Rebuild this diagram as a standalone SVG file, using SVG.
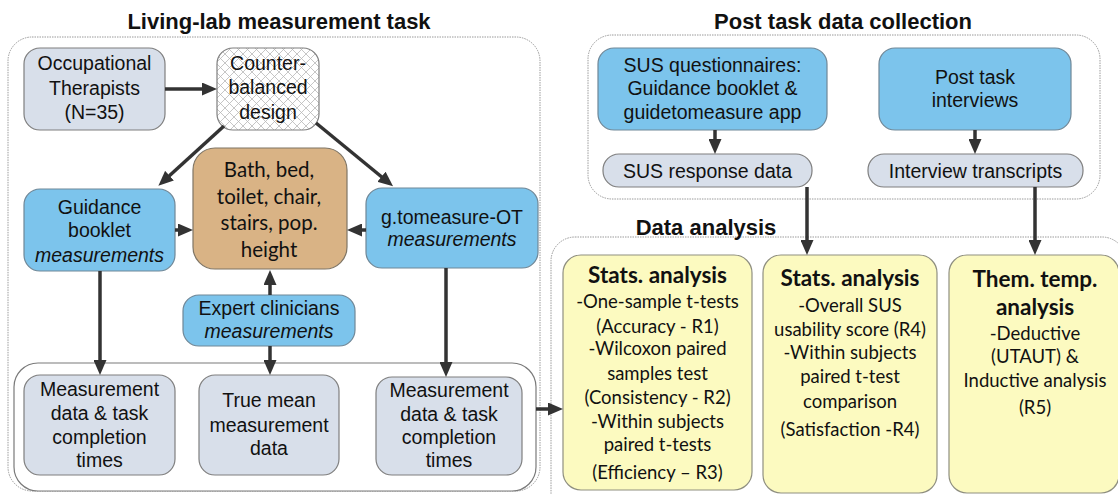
<svg xmlns="http://www.w3.org/2000/svg" width="1118" height="494" viewBox="0 0 1118 494">
<defs>
<pattern id="hatch" width="9" height="9" patternUnits="userSpaceOnUse">
<rect width="9" height="9" fill="#ffffff"/>
<path d="M0,0 L9,9 M9,0 L0,9" stroke="#b8b8b8" stroke-width="0.8"/>
</pattern>
<marker id="ah" markerWidth="15" markerHeight="13" refX="2" refY="6.5" orient="auto" markerUnits="userSpaceOnUse">
<path d="M0,0 L15,6.5 L0,13 Z" fill="#333333"/>
</marker>
<style>
.title{font-family:"Liberation Sans",Arial,sans-serif;font-weight:bold;font-size:22px;fill:#111;text-anchor:middle}
.grp{fill:#ffffff;stroke:#9a9a9a;stroke-width:1;stroke-dasharray:1.5 1}
.inner{fill:#ffffff;stroke:#7a7a7a;stroke-width:1.2}
.gray{fill:#d8dfea;stroke:#7f7f7f;stroke-width:1.2}
.blue{fill:#7cc4ec;stroke:#6f8797;stroke-width:1.2}
.tan{fill:#d9b385;stroke:#7f7565;stroke-width:1.2}
.hatchbox{fill:url(#hatch);stroke:#7f7f7f;stroke-width:1.2}
.yellow{fill:#fcfac0;stroke:#8f8f80;stroke-width:1.2}
.t{font-family:"Liberation Sans",Arial,sans-serif;font-size:19.5px;fill:#111;text-anchor:middle}
.c{font-family:Lato,"Liberation Sans",sans-serif;font-size:20.5px;fill:#111;text-anchor:middle}
.cb{font-family:Lato,"Liberation Sans",sans-serif;font-size:22.5px;font-weight:bold;fill:#111;text-anchor:middle}
.cs{font-family:Lato,"Liberation Sans",sans-serif;font-size:18.5px;fill:#111;text-anchor:middle}
.it{font-style:italic}
.conn{stroke:#333333;stroke-width:3.5;fill:none;marker-end:url(#ah)}
</style>
</defs>

<g id="containers">
<text class="title" x="279" y="29">Living-lab measurement task</text>
<rect class="grp" x="8" y="37" width="532" height="454" rx="24"/>
<text class="title" x="843" y="29">Post task data collection</text>
<rect class="grp" x="588" y="35" width="512" height="164" rx="24"/>
<rect class="grp" x="551" y="237" width="575" height="280" rx="24"/>
<text class="title" x="706" y="235">Data analysis</text>
<rect class="inner" x="14" y="363" width="522" height="128" rx="24"/>
</g>

<g id="occupational-therapists">
<rect class="gray" x="24" y="48" width="141" height="82" rx="16"/>
<text class="t" x="94.5" y="70">Occupational</text>
<text class="t" x="94.5" y="95">Therapists</text>
<text class="t" x="94.5" y="119">(N=35)</text>
</g>

<g id="counter-balanced">
<rect class="hatchbox" x="217" y="48" width="102" height="82" rx="16"/>
<text class="t" x="268" y="70">Counter-</text>
<text class="t" x="268" y="94">balanced</text>
<text class="t" x="268" y="119">design</text>
</g>

<g id="bath">
<rect class="tan" x="193" y="148" width="154" height="121" rx="22"/>
<text class="c" x="269" y="177">Bath, bed,</text>
<text class="c" x="269" y="204">toilet, chair,</text>
<text class="c" x="269" y="230">stairs, pop.</text>
<text class="c" x="269" y="257">height</text>
</g>

<g id="guidance-booklet">
<rect class="blue" x="24" y="189" width="151" height="82" rx="16"/>
<text class="t" x="99.5" y="214">Guidance</text>
<text class="t" x="99.5" y="237">booklet</text>
<text class="t it" x="99.5" y="262">measurements</text>
</g>

<g id="gtomeasure">
<rect class="blue" x="366" y="188" width="172" height="80" rx="16"/>
<text class="t" x="452" y="224">g.tomeasure-OT</text>
<text class="t it" x="452" y="246">measurements</text>
</g>

<g id="expert-clinicians">
<rect class="blue" x="183" y="295" width="172" height="51" rx="16"/>
<text class="t" x="269" y="315">Expert clinicians</text>
<text class="t it" x="269" y="338">measurements</text>
</g>

<g id="measurement-data-1">
<rect class="gray" x="24" y="375" width="151" height="100" rx="16"/>
<text class="t" x="99.5" y="396">Measurement</text>
<text class="t" x="99.5" y="420">data &amp; task</text>
<text class="t" x="99.5" y="444">completion</text>
<text class="t" x="99.5" y="467">times</text>
</g>

<g id="true-mean">
<rect class="gray" x="199" y="375" width="140" height="100" rx="16"/>
<text class="t" x="269" y="407">True mean</text>
<text class="t" x="269" y="432">measurement</text>
<text class="t" x="269" y="455">data</text>
</g>

<g id="measurement-data-2">
<rect class="gray" x="376" y="377" width="146" height="98" rx="16"/>
<text class="t" x="449" y="397">Measurement</text>
<text class="t" x="449" y="421">data &amp; task</text>
<text class="t" x="449" y="444">completion</text>
<text class="t" x="449" y="467">times</text>
</g>

<g id="sus-questionnaires">
<rect class="blue" x="598" y="48" width="229" height="82" rx="16"/>
<text class="t" x="712.5" y="72">SUS questionnaires:</text>
<text class="t" x="712.5" y="95">Guidance booklet &amp;</text>
<text class="t" x="712.5" y="119">guidetomeasure app</text>
</g>

<g id="post-task-interviews">
<rect class="blue" x="879" y="48" width="192" height="82" rx="16"/>
<text class="t" x="975" y="84">Post task</text>
<text class="t" x="975" y="107">interviews</text>
</g>

<g id="sus-response">
<rect class="gray" x="603" y="154" width="209" height="33" rx="16"/>
<text class="t" x="707.5" y="178">SUS response data</text>
</g>

<g id="interview-transcripts">
<rect class="gray" x="868" y="154" width="215" height="33" rx="16"/>
<text class="t" x="975.5" y="178">Interview transcripts</text>
</g>

<g id="stats-1">
<rect class="yellow" x="563" y="255" width="189" height="235" rx="18"/>
<text class="cb" x="657.5" y="283">Stats. analysis</text>
<text class="cs" x="657.5" y="308">-One-sample t-tests</text>
<text class="cs" x="657.5" y="333">(Accuracy - R1)</text>
<text class="cs" x="657.5" y="355">-Wilcoxon paired</text>
<text class="cs" x="657.5" y="380">samples test</text>
<text class="cs" x="657.5" y="404">(Consistency - R2)</text>
<text class="cs" x="657.5" y="428">-Within subjects</text>
<text class="cs" x="657.5" y="451">paired t-tests</text>
<text class="cs" x="657.5" y="479">(Efficiency – R3)</text>
</g>

<g id="stats-2">
<rect class="yellow" x="763" y="255" width="174" height="238" rx="18"/>
<text class="cb" x="850" y="286">Stats. analysis</text>
<text class="cs" x="850" y="312">-Overall SUS</text>
<text class="cs" x="850" y="336">usability score (R4)</text>
<text class="cs" x="850" y="359">-Within subjects</text>
<text class="cs" x="850" y="383">paired t-test</text>
<text class="cs" x="850" y="408">comparison</text>
<text class="cs" x="850" y="436">(Satisfaction -R4)</text>
</g>

<g id="thematic">
<rect class="yellow" x="949" y="255" width="170" height="238" rx="18"/>
<text class="cb" x="1035" y="287">Them. temp.</text>
<text class="cb" x="1035" y="315">analysis</text>
<text class="cs" x="1035" y="340">-Deductive</text>
<text class="cs" x="1035" y="363">(UTAUT) &amp;</text>
<text class="cs" x="1035" y="387">Inductive analysis</text>
<text class="cs" x="1035" y="414">(R5)</text>
</g>

<g id="connectors">
<path class="conn" d="M165,89 L204,89"/>
<path class="conn" d="M224,126 L168,177"/>
<path class="conn" d="M316,123 L383,178"/>
<path class="conn" d="M175,230 L180,230"/>
<path class="conn" d="M366,230 L360,230"/>
<path class="conn" d="M100,271 L100,362"/>
<path class="conn" d="M270,295 L270,283"/>
<path class="conn" d="M270,346 L270,362"/>
<path class="conn" d="M446,268 L446,364"/>
<path class="conn" d="M536,409 L550,409"/>
<path class="conn" d="M715,130 L715,141"/>
<path class="conn" d="M975,130 L975,141"/>
<path class="conn" d="M807,187 L807,242"/>
<path class="conn" d="M1035,187 L1035,242"/>
</g>
</svg>
